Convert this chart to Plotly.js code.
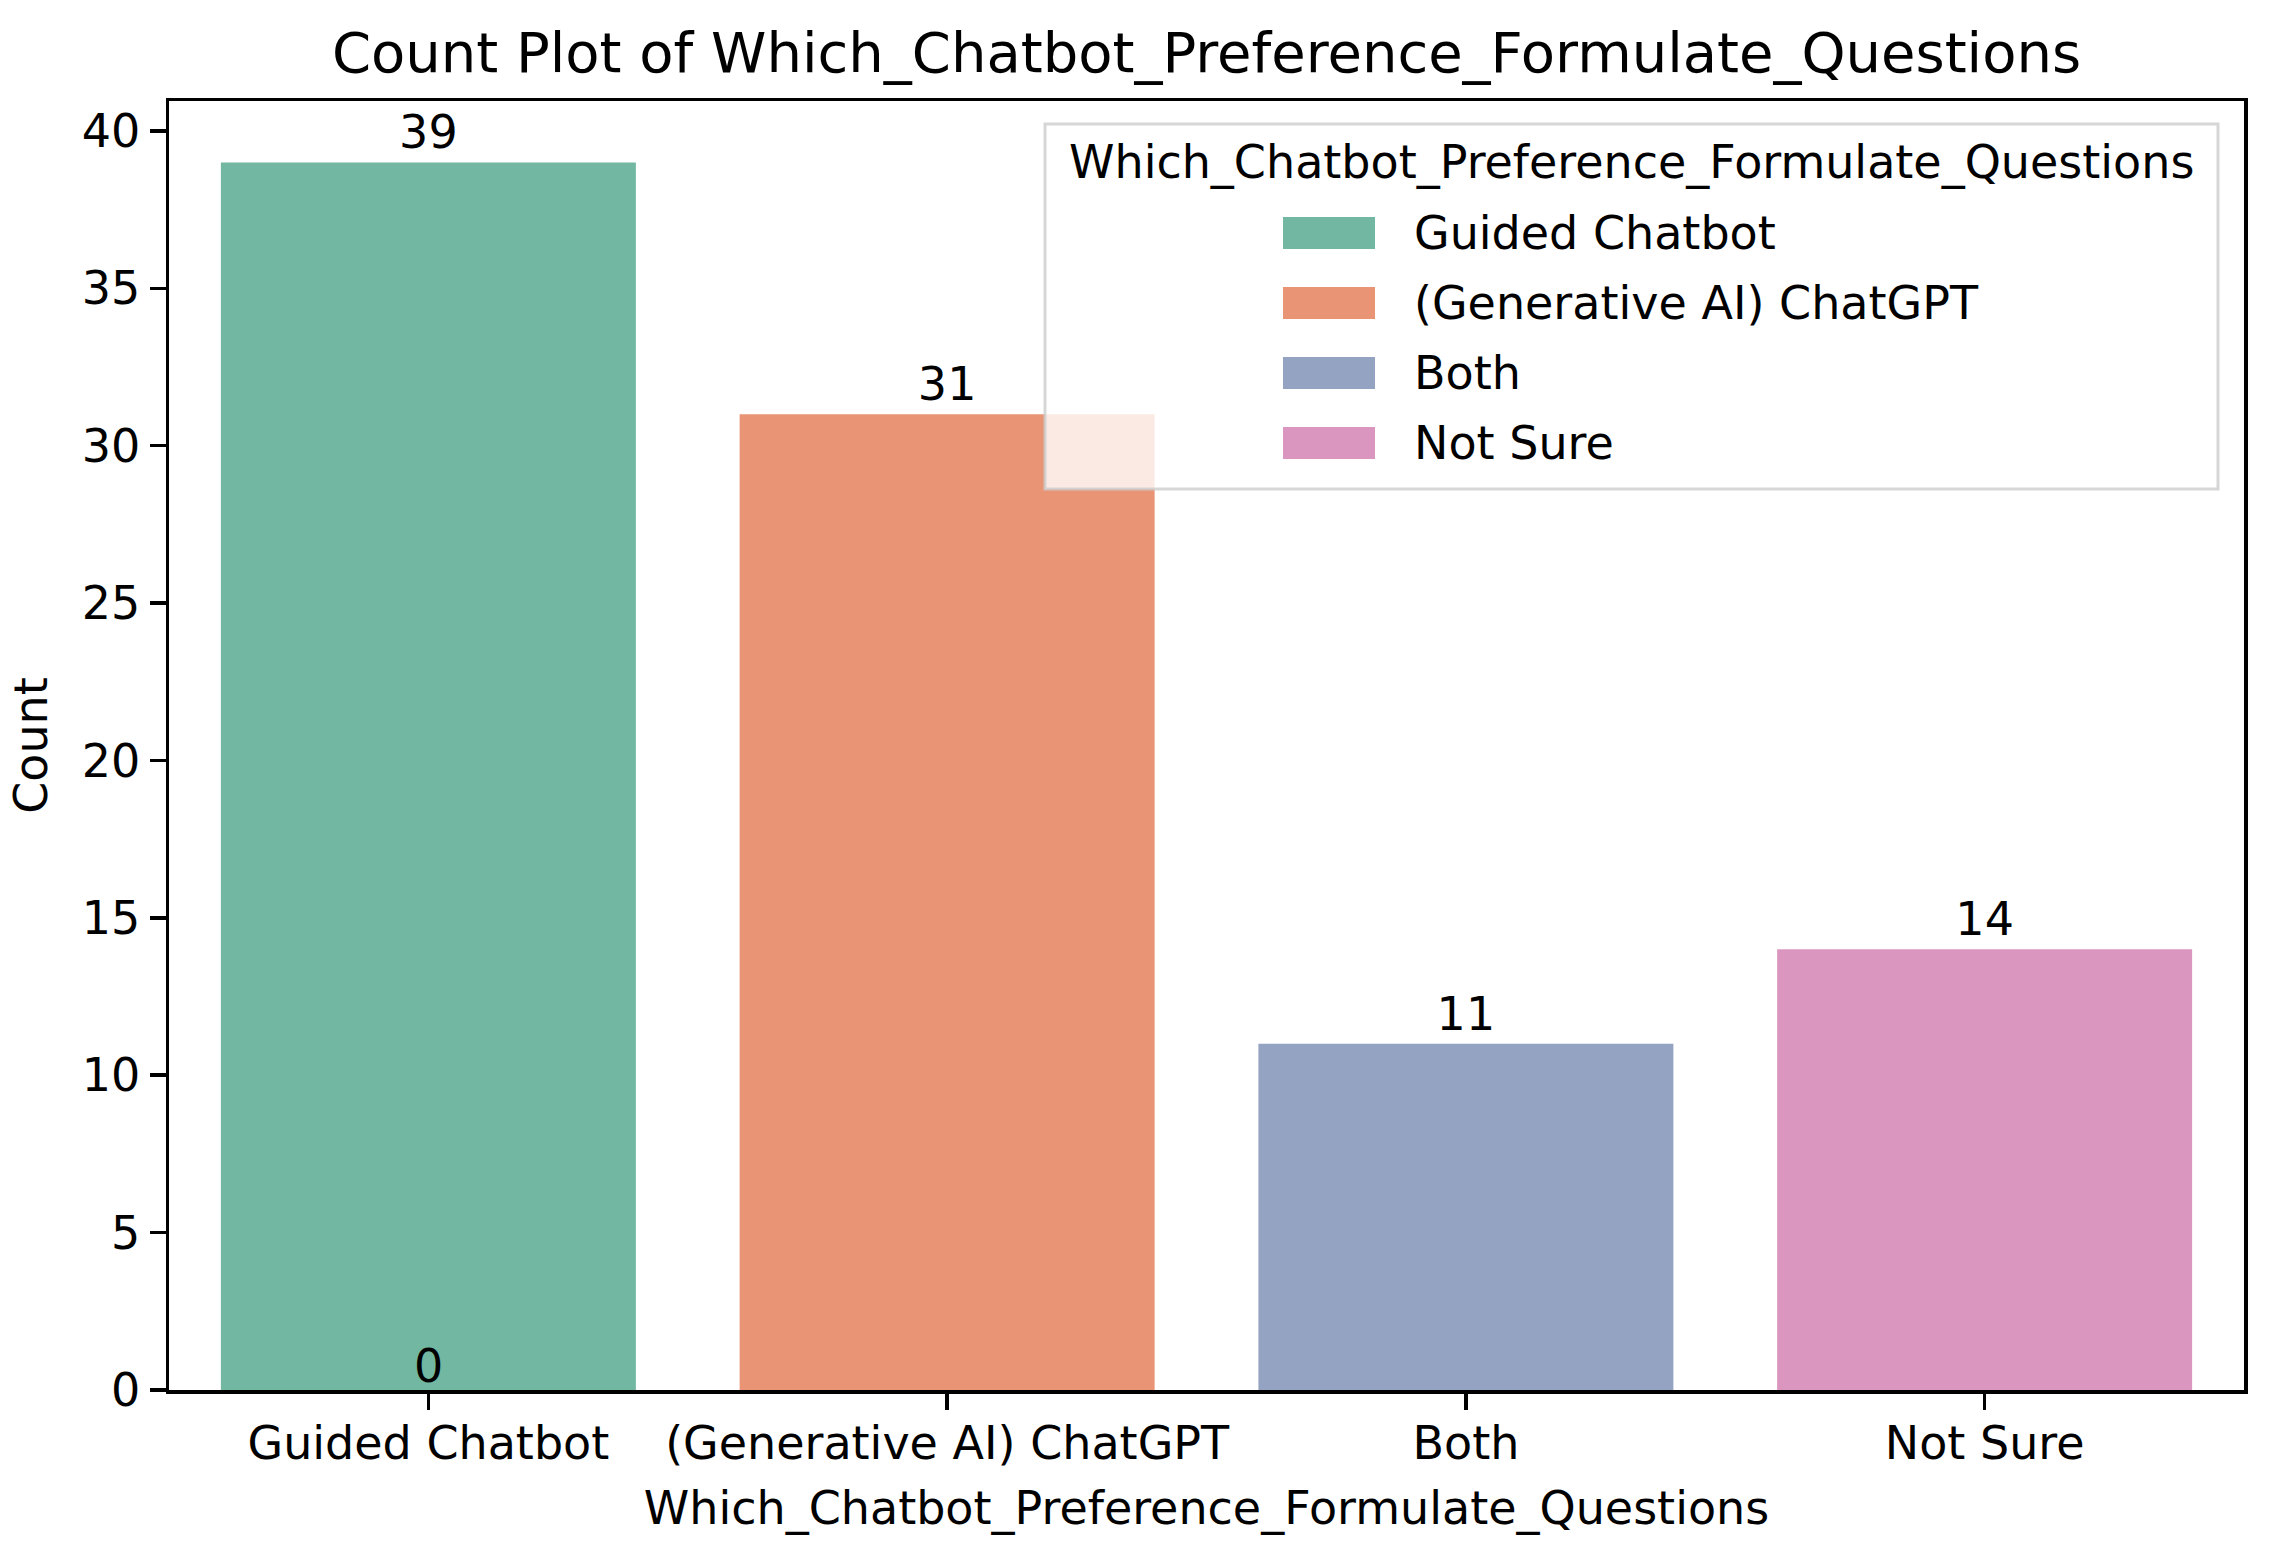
<!DOCTYPE html>
<html>
<head>
<meta charset="utf-8">
<script src="https://cdn.plot.ly/plotly-3.0.1.min.js"></script>
<style>
html,body{margin:0;padding:0;background:#fff;}
#chart{width:2270px;height:1556px;}
</style>
</head>
<body>
<div id="chart"></div>
<script>
// ---- data ----
const categories = ["Guided Chatbot", "(Generative AI) ChatGPT", "Both", "Not Sure"];
const counts = [39, 31, 11, 14];
const barColors = ["#71b7a1", "#e99575", "#95a3c3", "#db96c0"];
const zeroLabelCategory = "Guided Chatbot";
const zeroLabelValue = 0;
const yTicks = [0, 5, 10, 15, 20, 25, 30, 35, 40];
const chartTitle = "Count Plot of Which_Chatbot_Preference_Formulate_Questions";
const xTitle = "Which_Chatbot_Preference_Formulate_Questions";
const yTitle = "Count";
const legendTitle = "Which_Chatbot_Preference_Formulate_Questions";

// ---- geometry helpers (pixels -> paper) ----
const W = 2270, H = 1556;
const L = 169, R = 2244, T = 101, B = 1390;
const px2x = p => (p - L) / (R - L);
const px2y = p => (B - p) / (B - T);

const FONT = "DejaVu Sans, Verdana, sans-serif";
const FS = 46;

const trace = {
  type: "bar",
  x: categories,
  y: counts,
  marker: {color: barColors, line: {width: 0}},
  width: 0.8,
  text: counts.map(String),
  textposition: "outside",
  textfont: {family: FONT, size: FS, color: "#000"},
  cliponaxis: false,
  showlegend: false,
  hoverinfo: "x+y"
};

const shapes = [];
const annotations = [];

// legend box
const lgLeft = 1045, lgRight = 2218, lgTop = 124, lgBottom = 489;
shapes.push({
  type: "rect", xref: "paper", yref: "paper", layer: "above",
  x0: px2x(lgLeft), x1: px2x(lgRight), y0: px2y(lgBottom), y1: px2y(lgTop),
  fillcolor: "rgba(255,255,255,0.8)",
  line: {color: "rgba(204,204,204,0.8)", width: 3}
});
annotations.push({
  xref: "paper", yref: "paper", x: px2x((lgLeft + lgRight) / 2), y: px2y(162),
  xanchor: "center", yanchor: "middle", showarrow: false,
  text: legendTitle, font: {family: FONT, size: FS, color: "#000"}
});
const patchX0 = 1283, patchX1 = 1375, textX = 1412, firstY = 233, step = 70, patchH = 32;
categories.forEach((c, i) => {
  const cy = firstY + i * step;
  shapes.push({
    type: "rect", xref: "paper", yref: "paper", layer: "above",
    x0: px2x(patchX0), x1: px2x(patchX1), y0: px2y(cy + patchH / 2), y1: px2y(cy - patchH / 2),
    fillcolor: barColors[i], line: {width: 0}
  });
  annotations.push({
    xref: "paper", yref: "paper", x: px2x(textX), y: px2y(cy),
    xanchor: "left", yanchor: "middle", showarrow: false,
    text: c, font: {family: FONT, size: FS, color: "#000"}
  });
});

// the extra "0" label at the base of the first bar
annotations.push({
  xref: "x", yref: "y", x: zeroLabelCategory, y: zeroLabelValue,
  xanchor: "center", yanchor: "bottom", showarrow: false, yshift: -5,
  text: String(zeroLabelValue), font: {family: FONT, size: FS, color: "#000"}
});

const layout = {
  width: W, height: H,
  margin: {l: L, r: W - R, t: T, b: H - B, pad: 0},
  paper_bgcolor: "#fff",
  plot_bgcolor: "#fff",
  font: {family: FONT, size: FS, color: "#000"},
  title: {
    text: chartTitle, font: {family: FONT, size: 56, color: "#000"},
    xref: "paper", x: 0.5, xanchor: "center",
    yref: "container", y: 1 - 52 / H, yanchor: "middle"
  },
  xaxis: {
    type: "category",
    range: [-0.5, 3.5],
    showline: true, linecolor: "#000", linewidth: 3.5, mirror: true,
    ticks: "outside", ticklen: 16, tickwidth: 3.5, tickcolor: "#000",
    ticklabelstandoff: -6,
    showgrid: false, zeroline: false,
    tickfont: {family: FONT, size: FS, color: "#000"},
    title: {text: xTitle, font: {family: FONT, size: FS, color: "#000"}, standoff: 24},
    automargin: false
  },
  yaxis: {
    range: [0, 40.95],
    tickvals: yTicks,
    ticktext: yTicks.map(String),
    showline: true, linecolor: "#000", linewidth: 3.5, mirror: true,
    ticks: "outside", ticklen: 16, tickwidth: 3.5, tickcolor: "#000",
    showgrid: false, zeroline: false,
    tickfont: {family: FONT, size: FS, color: "#000"},
    title: {text: yTitle, font: {family: FONT, size: FS, color: "#000"}, standoff: 20},
    automargin: false
  },
  bargap: 0.2,
  shapes: shapes,
  annotations: annotations,
  showlegend: false
};

Plotly.newPlot("chart", [trace], layout, {staticPlot: true, displayModeBar: false});
</script>
</body>
</html>
